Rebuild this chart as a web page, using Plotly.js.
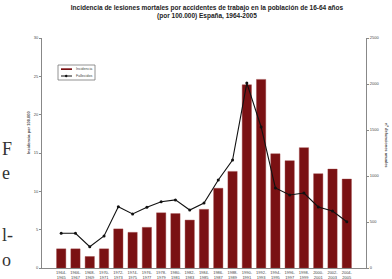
<!DOCTYPE html>
<html>
<head>
<meta charset="utf-8">
<script src="https://cdn.plot.ly/plotly-3.0.1.min.js"></script>
<style>html,body{margin:0;padding:0;background:#fff}#chart{width:392px;height:279px}</style>
</head>
<body>
<div id="chart"></div>
<script>
const periods = ["1964-<br>1965","1966-<br>1967","1968-<br>1969","1970-<br>1971","1972-<br>1973","1974-<br>1975","1976-<br>1977","1978-<br>1979","1980-<br>1981","1982-<br>1983","1984-<br>1985","1986-<br>1987","1988-<br>1989","1990-<br>1991","1992-<br>1993","1994-<br>1995","1996-<br>1997","1998-<br>1999","2000-<br>2001","2002-<br>2003","2004-<br>2005"];
const incidencia = [2.5,2.5,1.5,2.5,5.1,4.65,5.3,7.2,7.1,6.25,7.65,10.4,12.6,23.9,24.6,14.9,14.0,15.7,12.3,12.9,11.6];
const fallecidos = [377,377,232,348,666,587,660,720,740,630,707,957,1174,2010,1533,870,793,815,663,620,503];
const leftTicks = [0,5,10,15,20,25,30];
const rightTicks = [0,500,1000,1500,2000,2500];
const seriesNames = ["Incidencia","Fallecidos"];

const barColor = "#7a1113";
const sans = "Arial, Liberation Sans, sans-serif";
const tiny = {family:sans, size:4, color:"#444"};
const data = [
  {type:"bar", x:periods, y:incidencia, name:seriesNames[0], yaxis:"y",
   marker:{color:barColor, line:{color:"#9a4040", width:0.4}}},
  {type:"scatter", mode:"lines+markers", x:periods, y:fallecidos, name:seriesNames[1], yaxis:"y2",
   line:{color:"#111", width:1.1}, marker:{color:"#111", size:3}}
];
function px(x){return (x-42)/324;}
function py(y){return (268-y)/230;}
const serif = {family:"Liberation Serif, serif", size:18, color:"#333"};
const layout = {
  width:392, height:279,
  margin:{l:42, r:26, t:38, b:11},
  paper_bgcolor:"#fff", plot_bgcolor:"#fff",
  bargap:0.35,
  showlegend:false,
  title:{text:"<b>Incidencia de lesiones mortales por accidentes de trabajo en la población de 16-64 años<br>(por 100.000) España, 1964-2005</b>",
         font:{family:sans, size:6.5, color:"#222"},
         x:0.528, xanchor:"center", y:1-9.5/279, yanchor:"top", yref:"container"},
  xaxis:{type:"category", tickfont:tiny, showline:true, linecolor:"#888", linewidth:1,
         ticks:"", showgrid:false, zeroline:false},
  yaxis:{range:[0,30], tickvals:leftTicks, ticktext:leftTicks.map(String), tickfont:tiny,
         showline:true, linecolor:"#888", linewidth:1, ticks:"outside", ticklen:2, tickcolor:"#888",
         showgrid:false, zeroline:false},
  yaxis2:{range:[0,2500], tickvals:rightTicks, ticktext:rightTicks.map(String), tickfont:tiny,
          overlaying:"y", side:"right", showline:true, linecolor:"#888", linewidth:1,
          ticks:"outside", ticklen:2, tickcolor:"#888", showgrid:false, zeroline:false},
  shapes:[
    {type:"rect", xref:"paper", yref:"paper", x0:px(58), x1:px(95), y0:py(80), y1:py(65),
     line:{color:"#777", width:0.8}, fillcolor:"#fff"},
    {type:"rect", xref:"paper", yref:"paper", x0:px(61), x1:px(72), y0:py(70), y1:py(68.3),
     line:{width:0}, fillcolor:barColor},
    {type:"line", xref:"paper", yref:"paper", x0:px(61), x1:px(72), y0:py(76), y1:py(76),
     line:{color:"#111", width:1}},
    {type:"circle", xref:"paper", yref:"paper", x0:px(65), x1:px(67.4), y0:py(77.2), y1:py(74.8),
     line:{width:0}, fillcolor:"#111"}
  ],
  annotations:[
    {text:seriesNames[0], xref:"paper", yref:"paper", x:px(74), y:py(69), xanchor:"left", yanchor:"middle",
     showarrow:false, font:{family:sans, size:3.6, color:"#444"}},
    {text:seriesNames[1], xref:"paper", yref:"paper", x:px(74), y:py(76), xanchor:"left", yanchor:"middle",
     showarrow:false, font:{family:sans, size:3.6, color:"#444"}},
    {text:"<b>Incidencia por 100.000</b>", xref:"paper", yref:"paper", x:px(28), y:py(133), textangle:-90,
     xanchor:"center", yanchor:"middle",
     showarrow:false, font:{family:sans, size:4, color:"#444"}},
    {text:"<b>nº defunciones anuales</b>", xref:"paper", yref:"paper", x:px(387), y:py(145), textangle:90,
     xanchor:"center", yanchor:"middle",
     showarrow:false, font:{family:sans, size:4, color:"#444"}},
    {text:"F", xref:"paper", yref:"paper", x:px(0), y:py(149), xanchor:"left", yanchor:"middle", showarrow:false, font:serif},
    {text:"e", xref:"paper", yref:"paper", x:px(0), y:py(173), xanchor:"left", yanchor:"middle", showarrow:false, font:serif},
    {text:"l-", xref:"paper", yref:"paper", x:px(0), y:py(235), xanchor:"left", yanchor:"middle", showarrow:false, font:serif},
    {text:"o", xref:"paper", yref:"paper", x:px(0), y:py(260), xanchor:"left", yanchor:"middle", showarrow:false, font:serif}
  ]
};
Plotly.newPlot("chart", data, layout, {displayModeBar:false, staticPlot:true});
</script>
</body>
</html>
